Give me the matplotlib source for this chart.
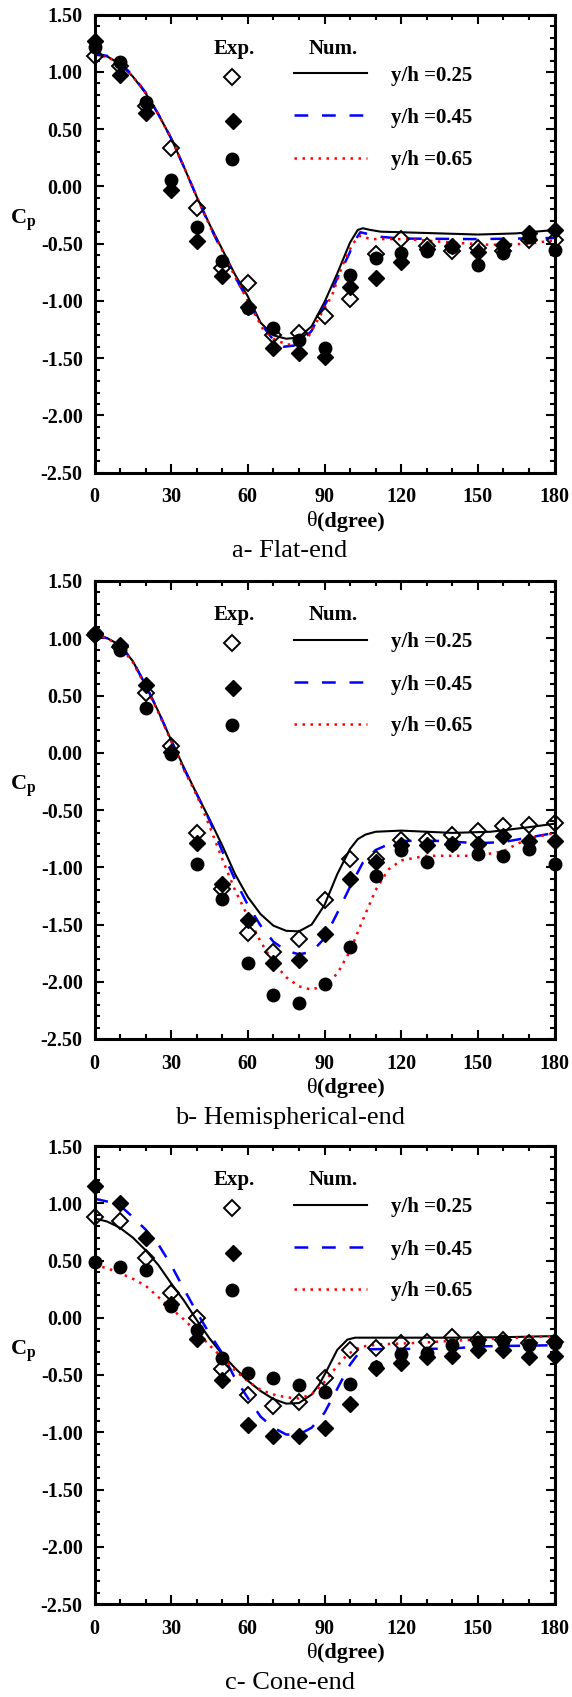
import matplotlib
matplotlib.use('Agg')
import matplotlib.pyplot as plt
from matplotlib.ticker import MultipleLocator, FormatStrFormatter

plt.rcParams['font.family'] = ['Liberation Serif', 'DejaVu Serif']
plt.rcParams['mathtext.fontset'] = 'custom'
plt.rcParams['mathtext.rm'] = 'Liberation Serif'
plt.rcParams['mathtext.bf'] = 'Liberation Serif:bold'
plt.rcParams['mathtext.it'] = 'Liberation Serif:italic'

# experimental points (every 10 degrees)
theta_exp = [0, 10, 20, 30, 40, 50, 60, 70, 80, 90, 100, 110, 120, 130, 140, 150, 160, 170, 180]

# a- flat-end
a_exp_025 = [1.14, 1.05, 0.70, 0.335, -0.184, -0.71, -0.84, -1.297, -1.282, -1.131, -0.985, -0.592, -0.461, -0.524, -0.56, -0.54, -0.56, -0.466, -0.47]
a_exp_045 = [1.267, 0.97, 0.64, -0.035, -0.475, -0.778, -1.05, -1.413, -1.452, -1.487, -0.875, -0.80, -0.656, -0.548, -0.52, -0.57, -0.51, -0.41, -0.38]
a_exp_065 = [1.22, 1.086, 0.737, 0.058, -0.35, -0.647, -1.06, -1.239, -1.341, -1.413, -0.773, -0.627, -0.583, -0.56, -0.53, -0.69, -0.58, -0.44, -0.553]

a_th_025 = [0, 5, 10, 15, 20, 25, 30, 35, 40, 45, 50, 55, 60, 65, 70, 75, 80, 85, 90, 95, 100, 103, 105, 108, 112, 120, 135, 150, 165, 180]
a_num_025 = [1.15, 1.135, 1.07, 0.96, 0.815, 0.63, 0.42, 0.17, -0.09, -0.33, -0.55, -0.77, -0.96, -1.19, -1.30, -1.33, -1.32, -1.22, -1.01, -0.76, -0.49, -0.38, -0.365, -0.38, -0.395, -0.40, -0.41, -0.42, -0.41, -0.38]
a_th_045 = [0, 5, 10, 15, 20, 25, 30, 35, 40, 45, 50, 55, 60, 65, 70, 74, 78, 82, 85, 88, 92, 95, 99, 102, 104, 106, 112, 120, 150, 180]
a_num_045 = [1.16, 1.14, 1.08, 0.97, 0.82, 0.63, 0.42, 0.17, -0.09, -0.34, -0.57, -0.79, -0.99, -1.195, -1.34, -1.40, -1.39, -1.33, -1.26, -1.12, -0.96, -0.80, -0.62, -0.47, -0.40, -0.41, -0.44, -0.455, -0.46, -0.45]
a_th_065 = [0, 5, 10, 15, 20, 25, 30, 35, 40, 45, 50, 55, 60, 66, 70, 75, 80, 84, 88, 93, 97, 101, 104, 108, 122, 140, 155, 170, 180]
a_num_065 = [1.15, 1.13, 1.07, 0.96, 0.82, 0.63, 0.42, 0.17, -0.09, -0.34, -0.56, -0.79, -1.00, -1.25, -1.33, -1.38, -1.38, -1.30, -1.14, -0.95, -0.69, -0.50, -0.43, -0.46, -0.46, -0.49, -0.51, -0.50, -0.47]

# b- hemispherical-end
b_exp_025 = [1.03, 0.92, 0.52, 0.06, -0.70, -1.187, -1.574, -1.74, -1.623, -1.289, -0.925, -0.925, -0.765, -0.759, -0.72, -0.68, -0.64, -0.63, -0.61]
b_exp_045 = [1.05, 0.94, 0.59, 0.01, -0.79, -1.143, -1.457, -1.836, -1.807, -1.58, -1.10, -0.954, -0.81, -0.81, -0.80, -0.80, -0.73, -0.77, -0.77]
b_exp_065 = [1.04, 0.90, 0.39, -0.01, -0.97, -1.274, -1.836, -2.112, -2.182, -2.016, -1.696, -1.079, -0.846, -0.954, -0.80, -0.88, -0.90, -0.84, -0.97]

b_th_025 = [0, 5, 10, 15, 20, 25, 30, 35, 40, 45, 50, 55, 60, 65, 70, 75, 80, 85, 90, 95, 100, 103, 106, 110, 120, 140, 155, 170, 180]
b_num_025 = [1.03, 1.00, 0.94, 0.80, 0.59, 0.36, 0.11, -0.13, -0.36, -0.58, -0.81, -1.06, -1.26, -1.41, -1.51, -1.555, -1.56, -1.50, -1.33, -1.06, -0.84, -0.755, -0.715, -0.69, -0.68, -0.70, -0.69, -0.65, -0.62]
b_th_045 = [0, 5, 10, 15, 20, 25, 30, 35, 40, 45, 50, 55, 60, 65, 70, 75, 80, 85, 90, 95, 100, 105, 110, 115, 120, 135, 150, 160, 170, 180]
b_num_045 = [1.03, 1.00, 0.94, 0.80, 0.59, 0.36, 0.11, -0.14, -0.36, -0.59, -0.86, -1.11, -1.33, -1.51, -1.65, -1.73, -1.76, -1.74, -1.62, -1.40, -1.17, -0.96, -0.85, -0.80, -0.77, -0.77, -0.79, -0.78, -0.74, -0.70]
b_th_065 = [0, 5, 10, 15, 20, 25, 30, 35, 40, 45, 50, 55, 60, 65, 70, 75, 80, 85, 90, 95, 100, 105, 110, 115, 120, 130, 150, 160, 166, 172, 180]
b_num_065 = [1.03, 1.00, 0.93, 0.79, 0.58, 0.35, 0.10, -0.15, -0.37, -0.64, -0.93, -1.20, -1.43, -1.65, -1.83, -1.96, -2.04, -2.07, -2.03, -1.93, -1.73, -1.46, -1.20, -1.02, -0.94, -0.90, -0.90, -0.86, -0.79, -0.74, -0.70]

# c- cone-end
c_exp_025 = [0.883, 0.848, 0.525, 0.213, -0.005, -0.448, -0.675, -0.768, -0.733, -0.523, -0.282, -0.267, -0.218, -0.209, -0.171, -0.19, -0.19, -0.22, -0.21]
c_exp_045 = [1.15, 0.999, 0.694, 0.117, -0.189, -0.544, -0.937, -1.033, -1.033, -0.966, -0.753, -0.442, -0.398, -0.34, -0.334, -0.28, -0.28, -0.34, -0.33]
c_exp_065 = [0.49, 0.446, 0.417, 0.103, -0.107, -0.354, -0.48, -0.529, -0.587, -0.646, -0.579, -0.43, -0.317, -0.31, -0.238, -0.21, -0.20, -0.24, -0.22]

c_th_025 = [0, 5, 10, 15, 20, 25, 30, 35, 40, 45, 50, 55, 60, 65, 70, 75, 80, 85, 88, 91, 95, 99, 102, 115, 140, 160, 180]
c_num_025 = [0.868, 0.84, 0.785, 0.70, 0.59, 0.46, 0.30, 0.15, -0.02, -0.18, -0.32, -0.44, -0.55, -0.64, -0.71, -0.75, -0.745, -0.67, -0.58, -0.456, -0.28, -0.19, -0.174, -0.174, -0.174, -0.17, -0.16]
c_th_045 = [0, 5, 10, 15, 20, 25, 30, 35, 40, 45, 50, 55, 60, 65, 70, 75, 80, 85, 90, 95, 100, 103, 106, 115, 140, 150, 180]
c_num_045 = [1.04, 1.015, 0.98, 0.88, 0.77, 0.64, 0.46, 0.25, 0.05, -0.14, -0.31, -0.53, -0.70, -0.864, -0.96, -1.02, -1.02, -0.96, -0.83, -0.62, -0.41, -0.32, -0.276, -0.273, -0.27, -0.25, -0.24]
c_th_065 = [0, 5, 10, 15, 20, 25, 30, 35, 40, 45, 50, 55, 60, 65, 70, 75, 80, 85, 90, 95, 99, 104, 112, 128, 141, 160, 180]
c_num_065 = [0.461, 0.432, 0.39, 0.34, 0.28, 0.18, 0.08, -0.015, -0.125, -0.24, -0.35, -0.46, -0.555, -0.63, -0.67, -0.695, -0.705, -0.67, -0.56, -0.42, -0.32, -0.253, -0.232, -0.218, -0.20, -0.18, -0.16]

labels = ['y/h =0.25', 'y/h =0.45', 'y/h =0.65']
captions = ['a- Flat-end', 'b- Hemispherical-end', 'c- Cone-end']

fig = plt.figure(figsize=(5.72, 16.97), dpi=100)
bottoms = [1 - 472.7 / 1697, 1 - 1039 / 1697, 1 - 1604 / 1697]
ax_w = 460 / 572
ax_h = 458 / 1697
ax_left = 94.5 / 572

panels = [
    (a_exp_025, a_exp_045, a_exp_065, a_th_025, a_num_025, a_th_045, a_num_045, a_th_065, a_num_065),
    (b_exp_025, b_exp_045, b_exp_065, b_th_025, b_num_025, b_th_045, b_num_045, b_th_065, b_num_065),
    (c_exp_025, c_exp_045, c_exp_065, c_th_025, c_num_025, c_th_045, c_num_045, c_th_065, c_num_065),
]

dash_style = (0, (5.5, 5.5))
dot_style = (0, (1, 2.2))

for i, p in enumerate(panels):
    e25, e45, e65, t25, n25, t45, n45, t65, n65 = p
    ax = fig.add_axes([ax_left, bottoms[i], ax_w, ax_h])

    # numerical curves
    ax.plot(t25, n25, color='black', lw=1.5, zorder=2)
    ax.plot(t45, n45, color='blue', lw=1.8, linestyle=dash_style, zorder=2)
    ax.plot(t65, n65, color='red', lw=1.8, linestyle=dot_style, zorder=2)

    # experiments
    ax.plot(theta_exp, e25, 'D', ms=8, mfc='none', mec='black', mew=1.4, zorder=3, clip_on=False)
    ax.plot(theta_exp, e45, 'D', ms=8, mfc='black', mec='black', mew=1.0, zorder=3, clip_on=False)
    ax.plot(theta_exp, e65, 'o', ms=9, mfc='black', mec='black', zorder=3, clip_on=False)

    ax.set_xlim(0, 180)
    ax.set_ylim(-2.5, 1.5)
    ax.xaxis.set_major_locator(MultipleLocator(30))
    ax.xaxis.set_minor_locator(MultipleLocator(10))
    ax.yaxis.set_major_locator(MultipleLocator(0.5))
    ax.yaxis.set_minor_locator(MultipleLocator(0.1))
    ax.yaxis.set_major_formatter(FormatStrFormatter('%.2f'))
    ax.tick_params(which='both', direction='in', top=True, right=True, width=1.5)
    ax.tick_params(which='major', length=6.5)
    ax.tick_params(which='minor', length=3.3)
    ax.tick_params(axis='x', which='major', pad=10.5)
    ax.tick_params(axis='y', which='major', pad=8.5)
    for lab in ax.get_xticklabels() + ax.get_yticklabels():
        lab.set_fontsize(14.5)
        lab.set_fontweight('bold')
    for s in ax.spines.values():
        s.set_linewidth(2.2)

    # axis titles
    ax.text(-0.155, 0.552, r'$\mathbf{C_p}$', transform=ax.transAxes, fontsize=16,
            ha='center', va='center')
    ax.text(0.484, -0.107, '\u03b8', transform=ax.transAxes, fontsize=16,
            ha='right', va='center')
    ax.text(0.484, -0.107, '(dgree)', transform=ax.transAxes, fontsize=16,
            fontweight='bold', ha='left', va='center')
    ax.text(0.425, -0.172, captions[i], transform=ax.transAxes, fontsize=19,
            ha='center', va='center')

    # hand-made legend
    tr = ax.transAxes
    ax.text(0.304, 0.925, 'Exp.', transform=tr, fontsize=15, fontweight='bold', ha='center', va='center')
    ax.text(0.519, 0.925, 'Num.', transform=tr, fontsize=15, fontweight='bold', ha='center', va='center')
    ax.plot([0.299], [0.865], 'D', ms=8, mfc='none', mec='black', mew=1.4, transform=tr)
    ax.plot([0.302], [0.767], 'D', ms=8, mfc='black', mec='black', transform=tr)
    ax.plot([0.298], [0.685], 'o', ms=9, mfc='black', mec='black', transform=tr)
    ax.plot([0.434, 0.592], [0.872, 0.872], color='black', lw=1.5, transform=tr)
    ax.plot([0.434, 0.592], [0.780, 0.780], color='blue', lw=1.8, linestyle=dash_style, transform=tr)
    ax.plot([0.434, 0.592], [0.687, 0.687], color='red', lw=1.8, linestyle=dot_style, transform=tr)
    for lab, yy in zip(labels, [0.866, 0.774, 0.683]):
        ax.text(0.644, yy, lab, transform=tr, fontsize=15, fontweight='bold', ha='left', va='center')

fig.savefig('out.png', dpi=100)
